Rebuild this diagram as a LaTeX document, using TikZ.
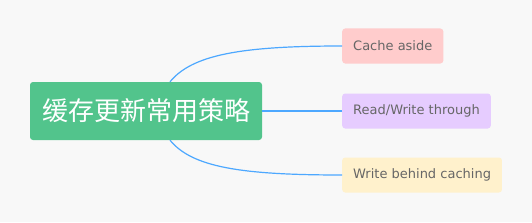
\documentclass[tikz,border=0pt]{standalone}
\usepackage{fontspec}
\setmainfont{Noto Sans CJK SC}
\newfontfamily\leaffont{DejaVu Sans}
\usetikzlibrary{positioning}
\definecolor{mmbg}{HTML}{F8F8F8}
\definecolor{mmgreen}{HTML}{52C48C}
\definecolor{mmblue}{HTML}{4DA8FF}
\definecolor{mmpink}{HTML}{FFCCCC}
\definecolor{mmviolet}{HTML}{E6CCFF}
\definecolor{mmamber}{HTML}{FFF1CC}
\definecolor{mmtext}{HTML}{666666}
\tikzset{
  root/.style={rounded corners=3pt, fill=mmgreen, text=white, font=\fontsize{26}{30}\selectfont, minimum width=232pt, minimum height=58pt, inner sep=0pt},
  leaf/.style={rounded corners=3pt, text=mmtext, font=\leaffont\fontsize{13}{15}\selectfont, minimum height=35pt, inner xsep=11pt, anchor=west},
  link/.style={draw=mmblue, line width=1.2pt},
}
\begin{document}
\begin{tikzpicture}[x=1pt, y=-1pt]
  \fill[mmbg] (0,0) rectangle (532,222);
  \useasboundingbox (0,0) rectangle (532,222);
  \node[root] (main) at (146,111) {缓存更新常用策略};
  \node[leaf, fill=mmpink] (aside) at (342,46) {Cache aside};
  \node[leaf, fill=mmviolet] (through) at (342,111) {Read/Write through};
  \node[leaf, fill=mmamber] (behind) at (342,175) {Write behind caching};
  \draw[link] (main.north -| 170,0) .. controls (192,55) and (240,46) .. (aside.west);
  \draw[link] (main.east) -- (through.west);
  \draw[link] (main.south -| 170,0) .. controls (192,167) and (240,175) .. (behind.west);
\end{tikzpicture}
\end{document}
